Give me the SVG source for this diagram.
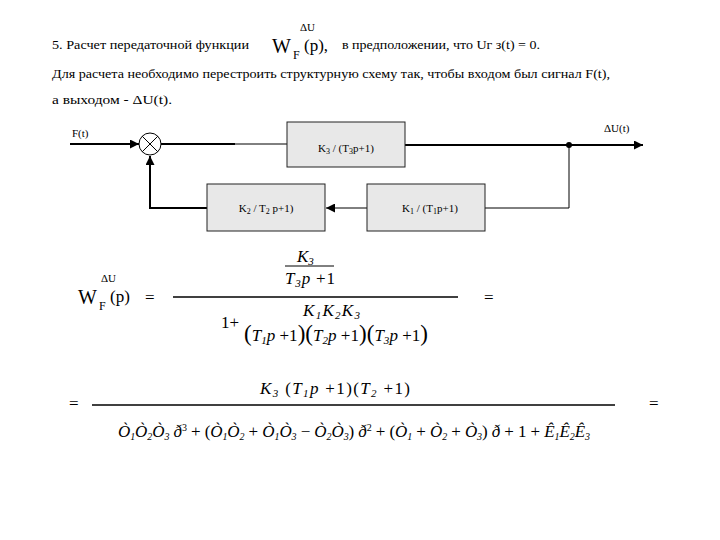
<svg xmlns="http://www.w3.org/2000/svg" width="720" height="540" viewBox="0 0 720 540">
<style>
.t { font-size: 13px; }
.lb { font-size: 11px; }
.bx { fill: #e8e8e8; stroke: #222; stroke-width: 1; }
.th { stroke: #000; stroke-width: 2; fill: none; }
.tn { stroke: #000; stroke-width: 1; fill: none; }
.f { font-style: italic; font-size: 17px; }
.up { font-size: 17px; }
</style>
<defs>
<marker id="ar" viewBox="0 0 10 10" refX="10" refY="5" markerWidth="9" markerHeight="9" markerUnits="userSpaceOnUse" orient="auto">
<path d="M0,0 L10,5 L0,10 z" fill="#000"/>
</marker>
</defs>

<g font-family="Liberation Serif, serif" fill="#000">
<g id="header">
<text class="t" x="52" y="49" textLength="197" lengthAdjust="spacingAndGlyphs">5. Расчет передаточной функции</text>
<text x="272" y="53" font-size="20">W</text>
<text x="300" y="31" font-size="11">ΔU</text>
<text x="293" y="59" font-size="12">F</text>
<text x="304" y="51" font-size="17">(p),</text>
<text class="t" x="342" y="49" textLength="198" lengthAdjust="spacingAndGlyphs">в предположении, что Uг з(t) = 0.</text>
<text class="t" x="52" y="78" textLength="558" lengthAdjust="spacingAndGlyphs">Для расчета необходимо перестроить структурную схему так, чтобы входом был сигнал F(t),</text>
<text class="t" x="52" y="104" textLength="120" lengthAdjust="spacingAndGlyphs">а выходом  - ΔU(t).</text>
</g>

<g id="connectors">
<line class="th" x1="70" y1="144" x2="139" y2="144" marker-end="url(#ar)"/>
<line class="th" x1="161" y1="144" x2="235" y2="144"/>
<line class="tn" x1="235" y1="144" x2="287" y2="144"/>
<line class="th" x1="405" y1="145" x2="643" y2="145" marker-end="url(#ar)"/>
<circle cx="569" cy="145" r="3" fill="#000"/>
<polyline class="tn" points="569,145 569,208 485,208"/>
<line class="tn" x1="367" y1="208" x2="326" y2="208" marker-end="url(#ar)"/>
<polyline class="th" points="207,208 150,208 150,156" marker-end="url(#ar)"/>
</g>

<g id="sum">
<circle cx="150" cy="144" r="11" fill="#fff" stroke="#000" stroke-width="1"/>
<line class="tn" x1="142.2" y1="136.2" x2="157.8" y2="151.8"/>
<line class="tn" x1="157.8" y1="136.2" x2="142.2" y2="151.8"/>
</g>

<g id="lbl-F"><text class="lb" x="72" y="137">F(t)</text></g>
<g id="lbl-dU"><text class="lb" x="604" y="132">ΔU(t)</text></g>

<g id="block-K3">
<rect class="bx" x="287" y="122" width="118" height="45"/>
<text class="lb" x="346" y="152" text-anchor="middle">K<tspan font-size="8" dy="2">3</tspan><tspan dy="-2"> / (T</tspan><tspan font-size="8" dy="2">3</tspan><tspan dy="-2">p+1)</tspan></text>
</g>
<g id="block-K2">
<rect class="bx" x="207" y="184" width="118" height="47"/>
<text class="lb" x="266" y="212" text-anchor="middle">K<tspan font-size="8" dy="2">2</tspan><tspan dy="-2"> / T</tspan><tspan font-size="8" dy="2">2</tspan><tspan dy="-2"> p+1)</tspan></text>
</g>
<g id="block-K1">
<rect class="bx" x="367" y="184" width="118" height="47"/>
<text class="lb" x="430" y="212" text-anchor="middle">K<tspan font-size="8" dy="2">1</tspan><tspan dy="-2"> / (T</tspan><tspan font-size="8" dy="2">1</tspan><tspan dy="-2">p+1)</tspan></text>
</g>

<g id="formula1">
<text x="78" y="304" font-size="20">W</text>
<text x="101" y="282" font-size="11">ΔU</text>
<text x="99" y="310" font-size="12">F</text>
<text x="110" y="302" font-size="17">(p)</text>
<text x="145" y="303" font-size="17">=</text>
<line x1="173" y1="297" x2="458" y2="297" stroke="#000" stroke-width="1.3"/>
<text class="f" x="297" y="262">K<tspan font-size="11" dy="3">3</tspan></text>
<line x1="285" y1="266" x2="334" y2="266" stroke="#000" stroke-width="1"/>
<text class="f" x="285" y="284" textLength="50">T<tspan font-size="11" dy="3">3</tspan><tspan dy="-3">p</tspan><tspan font-style="normal"> +1</tspan></text>
<text class="up" x="221" y="328">1+</text>
<text class="f" x="303" y="316" textLength="57">K<tspan font-size="11" dy="3">1</tspan><tspan dy="-3">K</tspan><tspan font-size="11" dy="3">2</tspan><tspan dy="-3">K</tspan><tspan font-size="11" dy="3">3</tspan></text>
<text class="f" x="244" y="341" textLength="184"><tspan font-style="normal" font-size="23">(</tspan>T<tspan font-size="11" dy="3">1</tspan><tspan dy="-3">p</tspan><tspan font-style="normal"> +1</tspan><tspan font-style="normal" font-size="23">)(</tspan>T<tspan font-size="11" dy="3">2</tspan><tspan dy="-3">p</tspan><tspan font-style="normal"> +1</tspan><tspan font-style="normal" font-size="23">)(</tspan>T<tspan font-size="11" dy="3">3</tspan><tspan dy="-3">p</tspan><tspan font-style="normal"> +1</tspan><tspan font-style="normal" font-size="23">)</tspan></text>
<text x="484" y="303" font-size="17">=</text>
</g>

<g id="formula2">
<text x="69" y="409" font-size="17">=</text>
<line x1="92" y1="405" x2="615" y2="405" stroke="#000" stroke-width="1.3"/>
<text class="f" x="260" y="394" font-size="18" textLength="150">K<tspan font-size="11" dy="3">3</tspan><tspan dy="-3" font-style="normal"> (</tspan>T<tspan font-size="11" dy="3">1</tspan><tspan dy="-3">p</tspan><tspan font-style="normal"> +1)(</tspan>T<tspan font-size="11" dy="3">2</tspan><tspan dy="-3" font-style="normal"> +1)</tspan></text>
<text class="f" x="118" y="437" font-size="16" textLength="472">Ò<tspan font-size="10" dy="3">1</tspan><tspan dy="-3">Ò</tspan><tspan font-size="10" dy="3">2</tspan><tspan dy="-3">Ò</tspan><tspan font-size="10" dy="3">3</tspan><tspan dy="-3"> ð</tspan><tspan font-size="10" font-style="normal" dy="-6">3</tspan><tspan dy="6" font-style="normal"> + (</tspan>Ò<tspan font-size="10" dy="3">1</tspan><tspan dy="-3">Ò</tspan><tspan font-size="10" dy="3">2</tspan><tspan dy="-3" font-style="normal"> + </tspan>Ò<tspan font-size="10" dy="3">1</tspan><tspan dy="-3">Ò</tspan><tspan font-size="10" dy="3">3</tspan><tspan dy="-3" font-style="normal"> − </tspan>Ò<tspan font-size="10" dy="3">2</tspan><tspan dy="-3">Ò</tspan><tspan font-size="10" dy="3">3</tspan><tspan dy="-3" font-style="normal">) </tspan>ð<tspan font-size="10" font-style="normal" dy="-6">2</tspan><tspan dy="6" font-style="normal"> + (</tspan>Ò<tspan font-size="10" dy="3">1</tspan><tspan dy="-3" font-style="normal"> + </tspan>Ò<tspan font-size="10" dy="3">2</tspan><tspan dy="-3" font-style="normal"> + </tspan>Ò<tspan font-size="10" dy="3">3</tspan><tspan dy="-3" font-style="normal">) </tspan>ð<tspan font-style="normal"> + 1 + </tspan>Ê<tspan font-size="10" dy="3">1</tspan><tspan dy="-3">Ê</tspan><tspan font-size="10" dy="3">2</tspan><tspan dy="-3">Ê</tspan><tspan font-size="10" dy="3">3</tspan></text>
<text x="649" y="409" font-size="17">=</text>
</g>
</g>
</svg>
